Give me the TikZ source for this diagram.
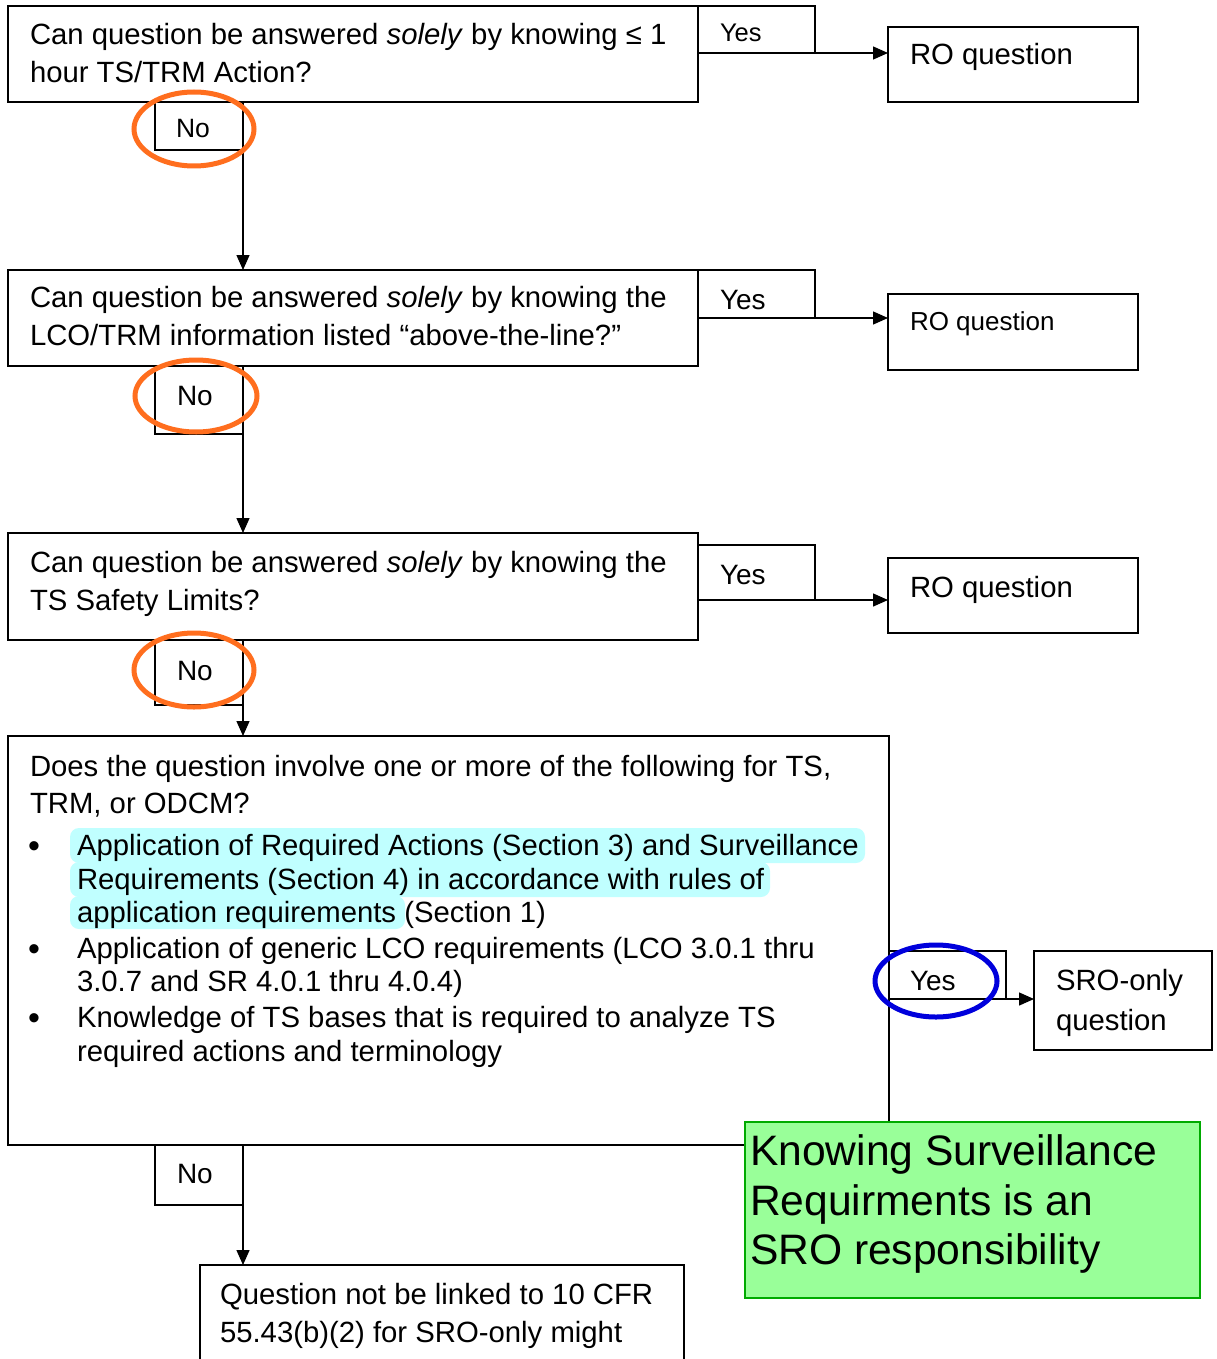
\documentclass[tikz,border=0pt]{standalone}
\usepackage{fontspec}
\setmainfont{Liberation Sans}
\usetikzlibrary{arrows.meta}
\definecolor{hlcyan}{RGB}{192,255,255}
\definecolor{ringorange}{RGB}{255,110,30}
\definecolor{ringblue}{RGB}{0,0,220}
\definecolor{notegreen}{RGB}{153,255,153}
\definecolor{noteedge}{RGB}{0,170,0}
\begin{document}
\begin{tikzpicture}[x=1pt,y=-1pt,
  box/.style={draw=black, line width=1.6pt, inner sep=0pt, outer sep=0pt, anchor=north west},
  txt/.style={inner sep=0pt, outer sep=0pt, anchor=base west, font=\fontsize{29.3}{34}\selectfont},
  big/.style={txt, font=\fontsize{42.6}{50}\selectfont},
  arr/.style={line width=1.4pt, -{Triangle[length=15pt,width=13pt]}},
  ring/.style={line width=5pt}]
\clip (0,0) rectangle (1217,1359);
\fill[white] (0,0) rectangle (1217,1359);

% question boxes
\node[box, minimum width=690pt, minimum height=96pt]  (q1) at (8,6) {};
\node[box, minimum width=690pt, minimum height=96pt]  (q2) at (8,270) {};
\node[box, minimum width=690pt, minimum height=107pt] (q3) at (8,533) {};
\node[box, minimum width=881pt, minimum height=409pt] (q4) at (8,736) {};

% yes / no tabs
\node[box, minimum width=117pt, minimum height=47pt] (y1) at (698,6) {};
\node[box, minimum width=117pt, minimum height=48pt] (y2) at (698,270) {};
\node[box, minimum width=117pt, minimum height=55pt] (y3) at (698,545) {};
\node[box, minimum width=117pt, minimum height=48pt] (y4) at (889,951) {};
\node[box, minimum width=88pt, minimum height=48pt] (n1) at (155,102) {};
\node[box, minimum width=88pt, minimum height=68pt] (n2) at (155,366) {};
\node[box, minimum width=88pt, minimum height=65pt] (n3) at (155,640) {};
\node[box, minimum width=88pt, minimum height=60pt] (n4) at (155,1145) {};

% outcome boxes
\node[box, minimum width=250pt, minimum height=75pt] (r1) at (888,27) {};
\node[box, minimum width=250pt, minimum height=76pt] (r2) at (888,294) {};
\node[box, minimum width=250pt, minimum height=75pt] (r3) at (888,558) {};
\node[box, minimum width=178pt, minimum height=99pt] (s4) at (1034,951) {};
\node[box, minimum width=484pt, minimum height=120pt] (fin) at (200,1265) {};

% connectors
\draw[arr] (y1.south west) -- (y1.south west -| r1.west);
\draw[arr] (y2.south west) -- (y2.south west -| r2.west);
\draw[arr] (y3.south west) -- (y3.south west -| r3.west);
\draw[arr] (y4.south west) -- (y4.south west -| s4.west);
\draw[arr] (n1.south east) -- (n1.south east |- q2.north);
\draw[arr] (n2.south east) -- (n2.south east |- q3.north);
\draw[arr] (n3.south east) -- (n3.south east |- q4.north);
\draw[arr] (n4.south east) -- (n4.south east |- fin.north);

% question texts
\node[txt] (q1a) at (30,45) {Can question be answered \textit{solely} by knowing ≤ 1};
\node[txt] (q1b) at (30,83) {hour TS/TRM Action?};
\node[txt] (q2a) at (30,307) {Can question be answered \textit{solely} by knowing the};
\node[txt] (q2b) at (30,345) {LCO/TRM information listed “above-the-line?”};
\node[txt] (q3a) at (30,572) {Can question be answered \textit{solely} by knowing the};
\node[txt] (q3b) at (30,610) {TS Safety Limits?};
\node[txt] (q4a) at (30,776) {Does the question involve one or more of the following for TS,};
\node[txt] (q4b) at (30,813) {TRM, or ODCM?};

% highlighted passage
\fill[hlcyan, rounded corners=9pt] (70,828) rectangle (865,863);
\fill[hlcyan, rounded corners=9pt] (70,862) rectangle (770,897);
\fill[hlcyan, rounded corners=9pt] (70,896) rectangle (405,929);

% bullet list
\node[txt, font=\fontsize{34}{34}\selectfont] (b1) at (28,857) {•};
\node[txt, font=\fontsize{34}{34}\selectfont] (b2) at (28,960) {•};
\node[txt, font=\fontsize{34}{34}\selectfont] (b3) at (28,1029) {•};
\node[txt] (l1) at (77,855) {Application of Required Actions (Section 3) and Surveillance};
\node[txt] (l2) at (77,889) {Requirements (Section 4) in accordance with rules of};
\node[txt] (l3) at (77,922) {application requirements (Section 1)};
\node[txt] (l4) at (77,958) {Application of generic LCO requirements (LCO 3.0.1 thru};
\node[txt] (l5) at (77,991) {3.0.7 and SR 4.0.1 thru 4.0.4)};
\node[txt] (l6) at (77,1027) {Knowledge of TS bases that is required to analyze TS};
\node[txt] (l7) at (77,1061) {required actions and terminology};

% tab labels
\node[txt, font=\fontsize{25.5}{30}\selectfont] (ty1) at (720,42) {Yes};
\node[txt, font=\fontsize{28}{33}\selectfont] (ty2) at (720,309) {Yes};
\node[txt, font=\fontsize{28}{33}\selectfont] (ty3) at (720,584) {Yes};
\node[txt, font=\fontsize{28}{33}\selectfont] (ty4) at (910,990) {Yes};
\node[txt, font=\fontsize{26.5}{31}\selectfont] (tn1) at (176,138) {No};
\node[txt, font=\fontsize{28}{33}\selectfont] (tn2) at (177,405) {No};
\node[txt, font=\fontsize{28}{33}\selectfont] (tn3) at (177,680) {No};
\node[txt, font=\fontsize{28}{33}\selectfont] (tn4) at (177,1183) {No};

% outcome texts
\node[txt] (tr1) at (910,65) {RO question};
\node[txt, font=\fontsize{26}{31}\selectfont] (tr2) at (910,330) {RO question};
\node[txt] (tr3) at (910,597) {RO question};
\node[txt] (ts1) at (1056,990) {SRO-only};
\node[txt] (ts2) at (1056,1030) {question};
\node[txt] (tf1) at (220,1304) {Question not be linked to 10 CFR};
\node[txt] (tf2) at (220,1342) {55.43(b)(2) for SRO-only might};

% emphasis rings
\draw[ring, ringorange] (194,129) ellipse [x radius=60, y radius=37];
\draw[ring, ringorange] (196,396) ellipse [x radius=61, y radius=36];
\draw[ring, ringorange] (194,670) ellipse [x radius=60, y radius=37];
\draw[ring, ringblue] (936,981) ellipse [x radius=61, y radius=36];

% note
\node[box, draw=noteedge, fill=notegreen, line width=2pt, minimum width=455pt, minimum height=176pt] (note) at (745,1122) {};
\node[big] (g1) at (750,1165) {Knowing Surveillance};
\node[big] (g2) at (750,1215) {Requirments is an};
\node[big] (g3) at (750,1264) {SRO responsibility};
\end{tikzpicture}
\end{document}
